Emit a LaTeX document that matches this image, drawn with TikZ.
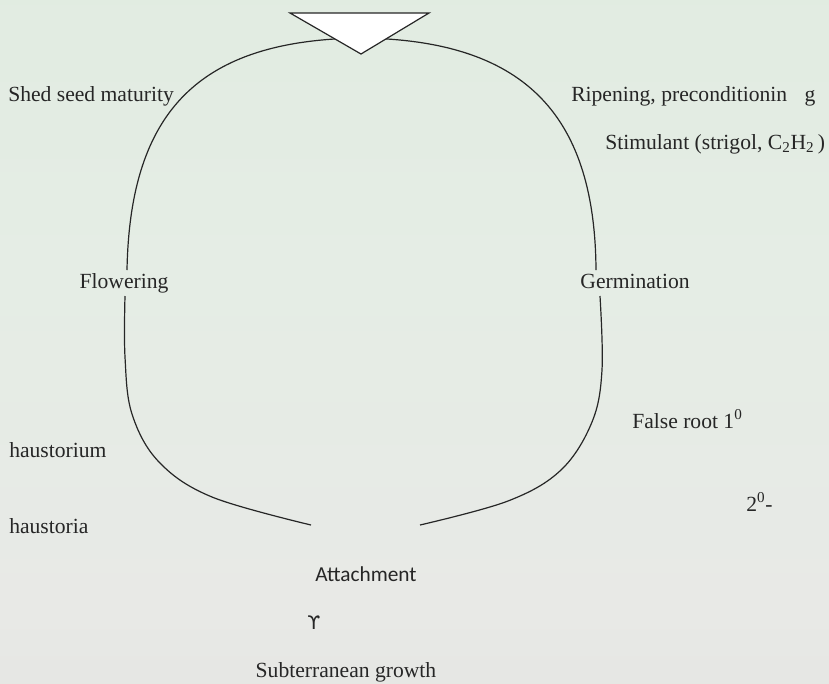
\documentclass[tikz,border=0pt]{standalone}
\usepackage{fontspec}
\setmainfont{Liberation Serif}
\newfontfamily\calib{Carlito}
\newfontfamily\djv{DejaVu Sans}
\definecolor{bgT}{RGB}{221,234,221}
\definecolor{bgA}{RGB}{229,237,229}
\definecolor{bgB}{RGB}{232,233,230}
\definecolor{bgC}{RGB}{222,222,219}
\definecolor{bgD}{RGB}{205,205,202}
\pgfdeclareverticalshading{bgshade}{100bp}{
  color(0bp)=(bgD); color(8bp)=(bgC); color(30bp)=(bgB); color(55bp)=(bgA); color(100bp)=(bgT)}
\begin{document}
\begin{tikzpicture}[x=0.75pt,y=-0.75pt,
  lbl/.style={inner sep=0pt,font=\fontsize{16.2}{19}\selectfont,text=black!85},
  sanslbl/.style={inner sep=0pt,font=\calib\fontsize{16}{19}\selectfont,text=black!85},
  arc/.style={draw=black!85,line width=0.9pt}]
\useasboundingbox (0,0) rectangle (829,683);
\shade[shading=bgshade] (0,0) rectangle (829,683);
% cycle arcs
\coordinate (top) at (361,38);
\coordinate (lmidA) at (127,270);
\coordinate (rmidA) at (596,270);
\coordinate (lstart) at (311,525);
\coordinate (rstart) at (420,525);
\draw[arc] (lmidA) .. controls (130,110) and (200,40) .. (top);
\draw[arc] (top) .. controls (520,40) and (595,110) .. (rmidA);
\draw[arc] plot[smooth,tension=0.6] coordinates{(125,296) (125,357) (132,414) (159,462) (212,497) (lstart)};
\draw[arc] plot[smooth,tension=0.6] coordinates{(600,296) (602,370) (592,422) (561,470) (508,501) (rstart)};
% triangle
\coordinate (tl) at (290,13);
\coordinate (tr) at (429,13);
\coordinate (tb) at (361,54);
\fill[white,draw=black!85,line width=0.9pt] (tl) -- (tr) -- (tb) -- cycle;
% labels
\node[lbl,anchor=base west] (shed) at (8,101) {Shed seed maturity};
\node[lbl,anchor=base west] (ripe) at (571,101) {Ripening, preconditionin\hspace{13pt}g};
\node[lbl,anchor=base west] (stim) at (605,149) {Stimulant (strigol, C\textsubscript{2}H\textsubscript{2}\,)};
\node[lbl,anchor=base] (flow) at (124,288) {Flowering};
\node[lbl,anchor=base] (germ) at (635,288) {Germination};
\node[lbl,anchor=base west] (false) at (632,428) {False root 1\textsuperscript{0}};
\node[lbl,anchor=base west] (hm) at (9,457) {haustorium};
\node[lbl,anchor=base west] (ha) at (9,533) {haustoria};
\node[lbl,anchor=base west] (sec) at (746,511) {2\textsuperscript{0}-};
\node[sanslbl,anchor=base west] (att) at (315,581) {Attachment};
\node[sanslbl,anchor=base,font=\djv\fontsize{14}{17}\selectfont] (ups) at (314,629) {ϒ};
\node[lbl,anchor=base] (sub) at (346,677) {Subterranean growth};
\end{tikzpicture}
\end{document}
